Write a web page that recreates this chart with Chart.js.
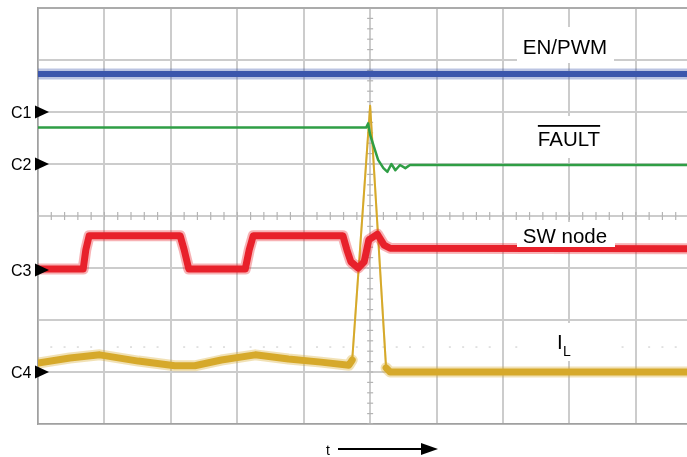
<!DOCTYPE html>
<html>
<head>
<meta charset="utf-8">
<script src="https://cdn.jsdelivr.net/npm/chart.js@4.4.0/dist/chart.umd.min.js"></script>
<style>
  html, body { margin: 0; padding: 0; background: #fff; }
  #wrap { position: relative; width: 687px; height: 457px; }
</style>
</head>
<body>
<div id="wrap"><canvas class="scope" width="687" height="457"></canvas></div>
<script>
// time axis in divisions, amplitude in divisions (scope grid 10 x 8)
const xGrid = [0, 1, 2, 3, 4, 5, 6, 7, 8, 9];
const yGrid = [0, 1, 2, 3, 4, 5, 6, 7, 8];
const xMax = 9.77;

const enTime = [0, 9.77];
const enLevel = [6.73, 6.73];

const faultTime = [0, 4.94, 4.97, 5.0, 5.12, 5.2, 5.26, 5.32, 5.38, 5.45, 5.53, 5.6, 9.77];
const faultLevel = [5.70, 5.70, 5.78, 5.56, 5.08, 4.92, 4.85, 5.0, 4.88, 4.98, 4.92, 4.98, 4.98];

const swTime = [0, 0.68, 0.72, 0.77, 2.14, 2.2, 2.27, 3.12, 3.18, 3.24, 4.59, 4.65, 4.71, 4.82, 4.91, 4.98, 5.11, 5.21, 5.3, 9.77];
const swLevel = [2.98, 2.98, 3.35, 3.62, 3.62, 3.35, 2.98, 2.98, 3.35, 3.62, 3.62, 3.35, 3.12, 3.0, 3.12, 3.54, 3.65, 3.44, 3.38, 3.37];

const ilTime = [0, 0.48, 0.93, 1.51, 2.06, 2.36, 2.76, 3.27, 3.77, 4.26, 4.68, 4.73, 5.0, 5.24, 5.3, 9.77];
const ilLevel = [1.17, 1.27, 1.33, 1.21, 1.12, 1.12, 1.23, 1.33, 1.25, 1.19, 1.13, 1.23, 6.12, 1.08, 1.0, 1.0];

const markerNames = ["C1", "C2", "C3", "C4"];
const markerLevels = [6.0, 5.0, 2.96, 1.0];

const gridColor = "#cccccc";
const frameColor = "#a0a0a0";

const toPoints = (times, levels) => times.map((t, i) => ({ x: t, y: levels[i] }));

// spike edges of the current trace are drawn thin, the noisy band thick
const steepThin = (wide) => (ctx) => {
  const dx = Math.abs(ctx.p1.x - ctx.p0.x) || 0.001;
  const dy = Math.abs(ctx.p1.y - ctx.p0.y);
  return dy / dx > 8 ? 2 : wide;
};

const trace = (label, times, levels, color, width) => ({
  label: label,
  data: toPoints(times, levels),
  borderColor: color,
  borderWidth: width,
  pointRadius: 0,
  tension: 0,
  borderJoinStyle: "round",
  borderCapStyle: "round",
  segment: { borderWidth: steepThin(width) },
});

const scopeDecor = {
  id: "scopeDecor",
  beforeDatasetsDraw(chart) {
    const { ctx, chartArea, scales } = chart;
    const cx = scales.x.getPixelForValue(5);
    const cy = scales.y.getPixelForValue(4);
    const dotY = scales.y.getPixelForValue(1.48);
    ctx.save();
    ctx.strokeStyle = "#b4b4b4";
    ctx.lineWidth = 1.2;
    for (let t = 0; t <= xMax; t += 0.2) {
      const px = scales.x.getPixelForValue(t);
      ctx.beginPath();
      ctx.moveTo(px, cy - 4);
      ctx.lineTo(px, cy + 4);
      ctx.stroke();
    }
    for (let v = 0; v <= 8; v += 0.2) {
      const py = scales.y.getPixelForValue(v);
      ctx.beginPath();
      ctx.moveTo(cx - 3, py);
      ctx.lineTo(cx + 3, py);
      ctx.stroke();
    }
    ctx.strokeStyle = "#cfcfcf";
    for (let t = 0.2; t <= xMax; t += 0.2) {
      if (Math.abs(t - Math.round(t)) < 0.01) continue;
      const px = scales.x.getPixelForValue(t);
      ctx.beginPath();
      ctx.moveTo(px - 1, dotY);
      ctx.lineTo(px + 1, dotY);
      ctx.stroke();
    }
    // top frame line
    ctx.strokeStyle = frameColor;
    ctx.lineWidth = 1.5;
    ctx.beginPath();
    ctx.moveTo(chartArea.left, chartArea.top);
    ctx.lineTo(chartArea.right, chartArea.top);
    ctx.stroke();
    ctx.restore();
  },
  afterDatasetsDraw(chart) {
    const { ctx, chartArea, scales } = chart;
    ctx.save();
    ctx.fillStyle = "#ffffff";
    ctx.fillRect(517, 27, 97, 36);
    ctx.fillRect(523, 116, 90, 42);
    ctx.fillRect(517, 222, 98, 25);
    ctx.fillRect(523, 323, 90, 38);

    ctx.fillStyle = "#000";
    ctx.textAlign = "center";
    ctx.textBaseline = "alphabetic";
    ctx.font = "20.5px 'Liberation Sans', Arial, sans-serif";
    ctx.fillText("EN/PWM", 565, 54);
    ctx.fillText("FAULT", 569, 146);
    const fw = ctx.measureText("FAULT").width;
    ctx.fillRect(569 - fw / 2, 125, fw, 1.8);
    ctx.fillText("SW node", 565, 243);
    ctx.textAlign = "left";
    ctx.fillText("I", 557, 349);
    ctx.font = "14px 'Liberation Sans', Arial, sans-serif";
    ctx.fillText("L", 563, 356);

    // channel markers
    ctx.font = "16px 'Liberation Sans', Arial, sans-serif";
    markerLevels.forEach((v, i) => {
      const py = scales.y.getPixelForValue(v);
      ctx.fillText(markerNames[i], 11, py + 6);
      ctx.beginPath();
      ctx.moveTo(chartArea.left - 3, py - 6.5);
      ctx.lineTo(chartArea.left + 11, py);
      ctx.lineTo(chartArea.left - 3, py + 6.5);
      ctx.closePath();
      ctx.fill();
    });

    // time arrow
    ctx.font = "14px 'Liberation Sans', Arial, sans-serif";
    ctx.fillText("t", 326, 455);
    ctx.strokeStyle = "#000";
    ctx.lineWidth = 2;
    ctx.beginPath();
    ctx.moveTo(338, 449);
    ctx.lineTo(425, 449);
    ctx.stroke();
    ctx.beginPath();
    ctx.moveTo(438, 449);
    ctx.lineTo(421, 443);
    ctx.lineTo(421, 455);
    ctx.closePath();
    ctx.fill();
    ctx.restore();
  },
};

const chart = document.querySelector(".scope");
const config = {
  type: "line",
  data: {
    datasets: [
      // soft halo behind each noisy trace, then the solid core
      trace("EN/PWM band", enTime, enLevel, "rgba(59, 87, 173, 0.35)", 11),
      trace("EN/PWM", enTime, enLevel, "#3b57ad", 6),
      trace("FAULT", faultTime, faultLevel, "#2f9e45", 2.5),
      trace("SW node band", swTime, swLevel, "rgba(232, 33, 43, 0.35)", 11),
      trace("SW node", swTime, swLevel, "#e8212b", 7),
      trace("IL band", ilTime, ilLevel, "rgba(214, 170, 44, 0.35)", 11),
      trace("IL", ilTime, ilLevel, "#d6aa2c", 7),
    ],
  },
  options: {
    responsive: false,
    animation: false,
    events: [],
    layout: { padding: { left: 38, top: 8, right: 0, bottom: 33 } },
    plugins: { legend: { display: false }, tooltip: { enabled: false } },
    scales: {
      x: {
        type: "linear",
        min: 0,
        max: xMax,
        afterBuildTicks: (axis) => { axis.ticks = xGrid.map((v) => ({ value: v })); },
        ticks: { display: false },
        grid: { color: gridColor, lineWidth: 2, drawTicks: false },
        border: { display: true, color: frameColor, width: 1.5 },
      },
      y: {
        type: "linear",
        min: 0,
        max: 8,
        afterBuildTicks: (axis) => { axis.ticks = yGrid.map((v) => ({ value: v })); },
        ticks: { display: false },
        grid: { color: gridColor, lineWidth: 2, drawTicks: false },
        border: { display: true, color: frameColor, width: 1.5 },
      },
    },
  },
  plugins: [scopeDecor],
};

const myChart = new Chart(chart, config);
</script>
</body>
</html>
